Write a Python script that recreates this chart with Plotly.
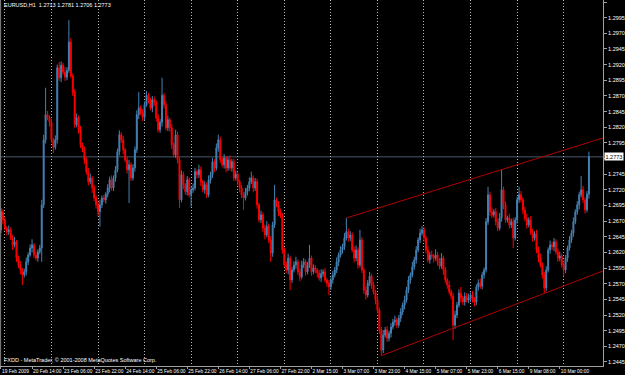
import plotly.graph_objects as go

# ---- data (prices expressed as pips above 1.2000) ----
first_open = 656
closes = [
    685, 672, 659, 653, 656, 643, 632, 637, 611, 600,
    592, 584, 589, 605, 616, 627, 632, 616, 611, 621,
    627, 696, 800, 840, 835, 828, 800, 788, 800, 915,
    899, 919, 908, 900, 911, 956, 902, 876, 824, 835,
    816, 792, 784, 768, 749, 733, 739, 723, 707, 696,
    685, 696, 707, 704, 713, 723, 736, 723, 739, 752,
    781, 808, 800, 784, 768, 752, 760, 739, 755, 784,
    840, 851, 843, 836, 856, 871, 864, 851, 864, 859,
    835, 816, 828, 871, 856, 819, 832, 819, 792, 776,
    808, 768, 704, 744, 728, 717, 736, 712, 720, 723,
    749, 744, 752, 733, 720, 728, 712, 736, 744, 765,
    755, 787, 800, 768, 760, 771, 755, 768, 755, 765,
    739, 745, 733, 723, 712, 707, 717, 723, 733, 739,
    723, 733, 696, 672, 680, 659, 648, 662, 640, 619,
    664, 704, 696, 685, 680, 624, 600, 592, 611, 576,
    592, 600, 605, 589, 581, 600, 605, 589, 600, 611,
    589, 595, 592, 587, 579, 586, 589, 576, 571, 565,
    576, 584, 592, 605, 616, 624, 629, 643, 653, 643,
    648, 624, 611, 624, 600, 640, 592, 560, 552, 571,
    582, 568, 557, 544, 528, 496, 464, 488, 496, 483,
    491, 501, 509, 512, 504, 515, 525, 536, 544, 560,
    576, 584, 597, 608, 624, 640, 651, 656, 643, 624,
    608, 616, 614, 611, 616, 605, 598, 611, 592, 576,
    568, 557, 550, 504, 520, 536, 555, 547, 541, 550,
    544, 547, 552, 544, 541, 565, 571, 566, 584, 592,
    669, 712, 685, 680, 685, 669, 659, 675, 720, 696,
    672, 675, 664, 669, 643, 672, 704, 712, 704, 688,
    675, 664, 672, 653, 643, 650, 624, 611, 600, 584,
    563, 592, 624, 632, 629, 637, 621, 611, 614, 600,
    592, 611, 627, 640, 651, 669, 685, 696, 712, 720,
    704, 688, 713, 773,
]
upper_wick = [
    6, 4, 5, 3, 7, 4, 5, 8, 3, 4, 6, 3, 5, 7, 4, 6, 9, 3, 5, 4,
    5, 8, 8, 43, 6, 4, 5, 3, 7, 5, 9, 6, 4, 8, 5, 35, 6, 4, 5, 7,
    4, 6, 3, 5, 4, 6, 7, 3, 5, 4, 6, 8, 4, 5, 3, 6, 5, 7, 4, 6,
    5, 7, 4, 6, 3, 5, 8, 4, 6, 5, 7, 25, 4, 6, 5, 7, 4, 3, 6, 5,
    4, 6, 5, 28, 4, 5, 7, 3, 6, 4, 8, 5, 4, 7, 5, 3, 6, 4, 5, 7,
    6, 4, 8, 5, 3, 6, 4, 7, 5, 6, 4, 7, 8, 5, 4, 6, 3, 5, 7, 4,
    5, 6, 4, 3, 5, 4, 6, 5, 7, 10, 4, 6, 5, 3, 7, 4, 5, 8, 4, 6,
    5, 24, 4, 6, 5, 3, 4, 6, 7, 4, 5, 6, 8, 4, 5, 7, 6, 4, 5, 21,
    4, 6, 5, 3, 5, 7, 4, 6, 3, 5, 4, 6, 5, 7, 4, 6, 5, 8, 22, 5,
    6, 4, 5, 7, 4, 16, 5, 4, 6, 5, 7, 4, 5, 3, 6, 4, 5, 8, 5, 6,
    4, 6, 5, 7, 4, 5, 6, 4, 7, 5, 6, 4, 8, 5, 6, 4, 7, 6, 5, 4,
    6, 5, 7, 4, 9, 5, 6, 8, 4, 5, 3, 6, 4, 5, 7, 5, 6, 10, 4, 6,
    5, 7, 4, 6, 5, 4, 6, 7, 5, 4, 6, 13, 5, 7, 4, 6, 5, 8, 32, 5,
    6, 4, 7, 5, 6, 4, 5, 13, 6, 4, 5, 7, 4, 6, 5, 4, 6, 5, 7, 4,
    5, 6, 4, 7, 5, 6, 4, 5, 7, 4, 6, 5, 4, 6, 5, 7, 4, 6, 5, 22,
    6, 4, 5, 8,
]
lower_wick = [
    5, 7, 4, 6, 5, 3, 8, 4, 6, 5, 7, 16, 4, 6, 5, 3, 7, 5, 4, 6,
    4, 22, 5, 6, 4, 7, 5, 9, 4, 6, 5, 7, 4, 6, 5, 4, 3, 6, 5, 4,
    6, 5, 4, 7, 5, 6, 4, 8, 5, 6, 7, 24, 5, 4, 6, 5, 7, 4, 5, 6,
    4, 6, 5, 7, 4, 6, 53, 5, 4, 6, 5, 7, 4, 6, 5, 3, 6, 4, 7, 5,
    6, 4, 5, 7, 6, 4, 5, 6, 7, 4, 5, 6, 13, 4, 7, 5, 6, 4, 19, 5,
    4, 6, 5, 7, 4, 6, 5, 4, 6, 5, 7, 4, 6, 5, 4, 6, 7, 5, 4, 6,
    5, 4, 6, 7, 5, 19, 4, 6, 5, 4, 7, 5, 6, 4, 5, 6, 7, 4, 5, 14,
    6, 5, 4, 7, 5, 6, 4, 5, 7, 16, 5, 4, 6, 5, 7, 4, 5, 6, 4, 5,
    6, 4, 5, 7, 4, 6, 5, 4, 6, 13, 5, 6, 4, 5, 7, 4, 6, 5, 4, 6,
    5, 4, 7, 5, 6, 4, 5, 6, 7, 4, 5, 6, 4, 7, 5, 6, 9, 5, 4, 6,
    5, 7, 4, 6, 5, 4, 6, 5, 7, 4, 5, 6, 4, 5, 6, 4, 5, 4, 6, 5,
    4, 6, 5, 7, 4, 6, 5, 4, 8, 5, 6, 4, 5, 24, 6, 5, 4, 7, 5, 6,
    4, 5, 6, 4, 7, 5, 6, 4, 5, 6, 4, 5, 7, 5, 4, 6, 5, 4, 6, 7,
    5, 4, 6, 5, 16, 4, 6, 5, 4, 7, 5, 6, 4, 5, 6, 4, 5, 7, 4, 6,
    8, 5, 4, 6, 5, 7, 4, 6, 5, 4, 10, 5, 6, 4, 5, 6, 4, 5, 7, 4,
    5, 6, 4, 7,
]

time_labels = [
    "19 Feb 2009", "20 Feb 14:00", "23 Feb 06:00", "23 Feb 22:00",
    "24 Feb 14:00", "25 Feb 06:00", "25 Feb 22:00", "26 Feb 14:00",
    "27 Feb 06:00", "27 Feb 22:00", "2 Mar 15:00", "3 Mar 07:00",
    "3 Mar 23:00", "4 Mar 15:00", "5 Mar 07:00", "5 Mar 23:00",
    "6 Mar 15:00", "9 Mar 08:00", "10 Mar 00:00",
]
time_label_bars = [0, 16, 32, 48, 64, 80, 96, 112, 128, 144, 160, 176,
                   192, 208, 224, 240, 256, 272, 288]
price_ticks = [1.2445, 1.2470, 1.2495, 1.2520, 1.2545, 1.2570, 1.2595,
               1.2620, 1.2645, 1.2670, 1.2695, 1.2720, 1.2745, 1.2770,
               1.2795, 1.2820, 1.2845, 1.2870, 1.2895, 1.2920, 1.2945,
               1.2970, 1.2995, 1.3020]
price_tick_labels = ["1.2445", "1.2470", "1.2495", "1.2520", "1.2545",
                     "1.2570", "1.2595", "1.2620", "1.2645", "1.2670",
                     "1.2695", "1.2720", "1.2745", "", "1.2795", "1.2820",
                     "1.2845", "1.2870", "1.2895", "1.2920", "1.2945",
                     "1.2970", "1.2995", "1.3020"]

upper_line_bars = [178, 312]
upper_line_prices = [1.2675, 1.28045]
lower_line_bars = [196, 312]
lower_line_prices = [1.2455, 1.25925]

title_text = "EURUSD,H1  1.2713 1.2781 1.2706 1.2773"
footer_text = "FXDD - MetaTrader, \u00a9 2001-2008 MetaQuotes Software Corp."

# ---- build OHLC ----
opens = [first_open] + closes[:-1]
highs = [max(o, c) + u for o, c, u in zip(opens, closes, upper_wick)]
lows = [min(o, c) - w for o, c, w in zip(opens, closes, lower_wick)]
to_price = lambda arr: [1.2 + v / 10000 for v in arr]
O, H, L, C = to_price(opens), to_price(highs), to_price(lows), to_price(closes)
bars = list(range(len(closes)))

BLUE = "#4682B4"
RED = "#FF0000"
FONT = "Liberation Sans"

fig = go.Figure()
fig.add_trace(go.Candlestick(
    x=bars, open=O, high=H, low=L, close=C,
    increasing=dict(line=dict(color=BLUE, width=1), fillcolor=BLUE),
    decreasing=dict(line=dict(color=RED, width=1), fillcolor=RED),
    whiskerwidth=0, showlegend=False, hoverinfo="skip",
))
fig.add_trace(go.Scatter(x=upper_line_bars, y=upper_line_prices, mode="lines",
                         line=dict(color="#B00000", width=1), showlegend=False,
                         hoverinfo="skip"))
fig.add_trace(go.Scatter(x=lower_line_bars, y=lower_line_prices, mode="lines",
                         line=dict(color="#B00000", width=1), showlegend=False,
                         hoverinfo="skip"))

last_close = C[-1]
fig.add_shape(type="line", xref="paper", x0=0, x1=1, yref="y",
              y0=last_close, y1=last_close,
              line=dict(color="#2E3B47", width=1.5), layer="below")
fig.add_shape(type="line", xref="paper", x0=0.001, x1=0.001, yref="paper",
              y0=0, y1=1, line=dict(color="#808080", width=1))

fig.add_annotation(x=1, xref="paper", y=last_close, yref="y",
                   text=f"{last_close:.4f}", showarrow=False,
                   xanchor="left", yanchor="middle", xshift=1,
                   bgcolor="#FFFFFF", borderpad=0.5,
                   font=dict(family=FONT, size=5.5, color="#000000"))
fig.add_annotation(x=0.004, xref="paper", y=0.986, yref="paper",
                   text=title_text, showarrow=False, xanchor="left",
                   yanchor="middle",
                   font=dict(family=FONT, size=5.5, color="#FFFFFF"))
fig.add_annotation(x=0.004, xref="paper", y=0.016, yref="paper",
                   text=footer_text, showarrow=False, xanchor="left",
                   yanchor="middle",
                   font=dict(family=FONT, size=5.5, color="#FFFFFF"))

fig.update_layout(
    width=625, height=375,
    margin=dict(l=0, r=19, t=0, b=9),
    paper_bgcolor="#000000", plot_bgcolor="#000000",
    showlegend=False,
    xaxis=dict(
        range=[-0.51, 310.26],
        rangeslider=dict(visible=False),
        tickmode="array", tickvals=time_label_bars, ticktext=time_labels,
        ticklabelposition="outside right", tickangle=0,
        ticks="outside", ticklen=2, tickcolor="#A0A0A0",
        tickfont=dict(family=FONT, size=4.8, color="#FFFFFF"),
        showgrid=False, zeroline=False,
        showline=True, linecolor="#A0A0A0", linewidth=1,
        minor=dict(tickmode="linear", tick0=2, dtick=24, showgrid=True,
                   gridcolor="#B8B8B8", griddash="1px,2px", gridwidth=1,
                   ticks=""),
        fixedrange=True,
    ),
    yaxis=dict(
        side="right",
        range=[1.24386, 1.30232],
        tickmode="array", tickvals=price_ticks, ticktext=price_tick_labels,
        ticks="outside", ticklen=3, tickcolor="#A0A0A0",
        tickfont=dict(family=FONT, size=5.5, color="#FFFFFF"),
        showgrid=False, zeroline=False,
        showline=True, linecolor="#A0A0A0", linewidth=1,
        fixedrange=True,
    ),
)

fig.write_html("out.html")
